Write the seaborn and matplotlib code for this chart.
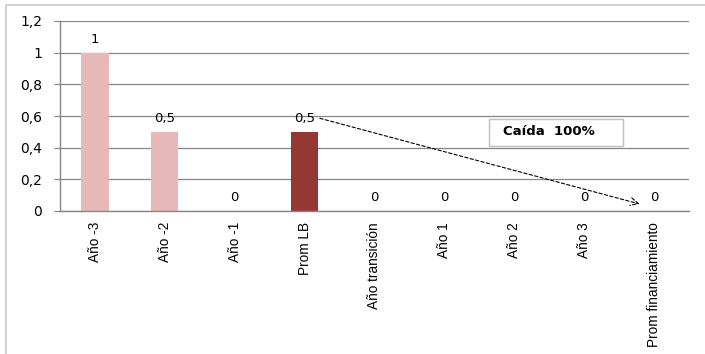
import matplotlib
matplotlib.use('Agg')
import matplotlib.pyplot as plt
import seaborn as sns
import pandas as pd
from matplotlib.patches import Rectangle

# datos del gráfico
categorias = ['Año -3', 'Año -2', 'Año -1', 'Prom LB', 'Año transición',
              'Año 1', 'Año 2', 'Año 3', 'Prom financiamiento']
valores = [1, 0.5, 0, 0.5, 0, 0, 0, 0, 0]
etiquetas = ['1', '0,5', '0', '0,5', '0', '0', '0', '0', '0']
colores = ['#E6B9B8', '#E6B9B8', '#E6B9B8', '#953735', '#E6B9B8',
           '#E6B9B8', '#E6B9B8', '#E6B9B8', '#E6B9B8']
yticks = [0, 0.2, 0.4, 0.6, 0.8, 1.0, 1.2]
ytick_labels = ['0', '0,2', '0,4', '0,6', '0,8', '1', '1,2']
texto_caida = 'Caída  100%'

sns.set_style('white')
plt.rcParams['font.family'] = ['Liberation Sans', 'DejaVu Sans']
plt.rcParams['text.color'] = 'black'
plt.rcParams['xtick.color'] = 'black'
plt.rcParams['ytick.color'] = 'black'

df = pd.DataFrame({'cat': categorias, 'val': valores})

fig = plt.figure(figsize=(7.05, 3.54), dpi=100)
W, H = 705, 354
ax = fig.add_axes([60 / W, (H - 211) / H, (689 - 60) / W, (211 - 21) / H])

# marco exterior
fig.patches.append(Rectangle((6 / W, -0.1), 1.2, (H - 5) / H + 0.1,
                             transform=fig.transFigure, fill=False,
                             edgecolor='#C8C8C8', lw=1.2))

sns.barplot(data=df, x='cat', y='val', hue='cat', palette=colores,
            width=0.39, saturation=1, legend=False, linewidth=0, ax=ax)

ax.set_ylim(0, 1.2)
ax.set_xlim(-0.5, len(categorias) - 0.5)
ax.set_yticks(yticks)
ax.set_yticklabels(ytick_labels, fontsize=10, family='DejaVu Sans')
ax.yaxis.grid(True, color='#868686', lw=0.9)
ax.set_axisbelow(True)
ax.set_xlabel('')
ax.set_ylabel('')

ax.set_xticks(range(len(categorias)))
ax.set_xticklabels(categorias, rotation=90, fontsize=9.8, va='top')
ax.tick_params(axis='x', length=0, pad=8)
ax.set_xticks([i - 0.5 for i in range(len(categorias) + 1)], minor=True)
ax.tick_params(axis='x', which='minor', length=4, color='#868686', direction='out')
ax.tick_params(axis='y', length=4.3, color='#868686', labelcolor='black',
               direction='out', left=True, pad=8.5)

for s in ['top', 'right']:
    ax.spines[s].set_visible(False)
for s in ['left', 'bottom']:
    ax.spines[s].set_color('#868686')
    ax.spines[s].set_linewidth(1)

# etiquetas de valor
for i, (v, t) in enumerate(zip(valores, etiquetas)):
    ax.text(i, v + 0.045, t, ha='center', va='bottom', fontsize=9.5,
            family='DejaVu Sans')

# flecha de caída
ax.annotate('', xy=(7.83, 0.04), xytext=(3.18, 0.59),
            arrowprops=dict(arrowstyle='->', linestyle=(0, (3, 2)), lw=0.8,
                            color='black', mutation_scale=14))

# cuadro de texto
ax.add_patch(Rectangle((5.64, 0.41), 1.91, 0.17, facecolor='white',
                       edgecolor='#BFBFBF', lw=1, zorder=5))
ax.text(5.84, 0.50, texto_caida, ha='left', va='center', fontsize=9.5,
        fontweight='bold', family='DejaVu Sans', zorder=6)

fig.savefig('out.png', dpi=100)
